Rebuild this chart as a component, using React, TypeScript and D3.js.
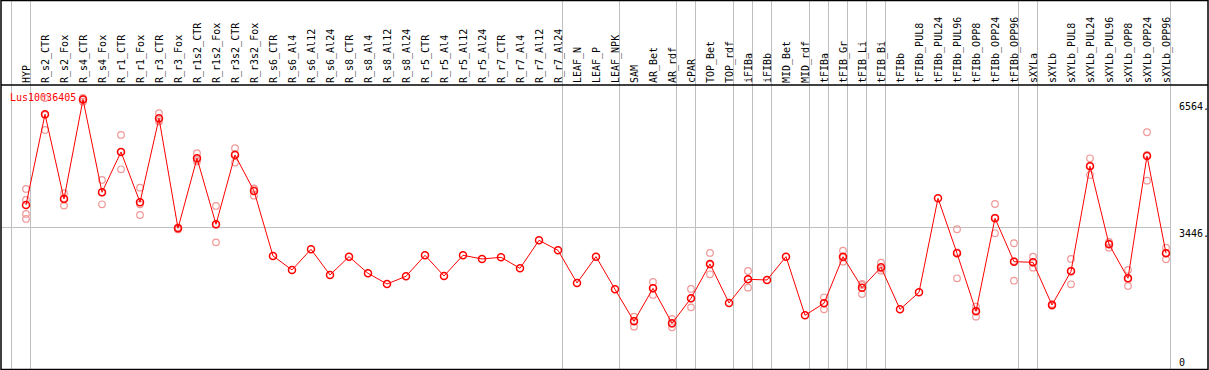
import React from "react";
import * as d3 from "d3";

// Categories (samples), in plot order
const categories = [
  "HYP", "R_s2_CTR", "R_s2_Fox", "R_s4_CTR", "R_s4_Fox", "R_r1_CTR", "R_r1_Fox",
  "R_r3_CTR", "R_r3_Fox", "R_r1s2_CTR", "R_r1s2_Fox", "R_r3s2_CTR", "R_r3s2_Fox",
  "R_s6_CTR", "R_s6_Al4", "R_s6_Al12", "R_s6_Al24", "R_s8_CTR", "R_s8_Al4",
  "R_s8_Al12", "R_s8_Al24", "R_r5_CTR", "R_r5_Al4", "R_r5_Al12", "R_r5_Al24",
  "R_r7_CTR", "R_r7_Al4", "R_r7_Al12", "R_r7_Al24", "LEAF_N", "LEAF_P", "LEAF_NPK",
  "SAM", "AR_Bet", "AR_rdf", "cPAR", "TOP_Bet", "TOP_rdf", "iFIBa", "iFIBb",
  "MID_Bet", "MID_rdf", "tFIBa", "tFIB_Gr", "tFIB_Li", "tFIB_Bi", "tFIBb",
  "tFIBb_PUL8", "tFIBb_PUL24", "tFIBb_PUL96", "tFIBb_OPP8", "tFIBb_OPP24",
  "tFIBb_OPP96", "sXYLa", "sXYLb", "sXYLb_PUL8", "sXYLb_PUL24", "sXYLb_PUL96",
  "sXYLb_OPP8", "sXYLb_OPP24", "sXYLb_OPP96",
];

// Mean expression per sample
const meanValues = [
  3995, 6204, 4141, 6564, 4304, 5286, 4060, 6106, 3427, 5132, 3524, 5213, 4336,
  2753, 2412, 2916, 2290, 2736, 2330, 2071, 2258, 2769, 2265, 2769, 2680,
  2720, 2452, 3134, 2891, 2095, 2736, 1941,
  1161, 1965, 1112, 1722, 2558, 1608, 2185, 2168, 2736, 1308,
  1600, 2736, 1981, 2477, 1454, 1868, 4158, 2818, 1405, 3671, 2614,
  2598, 1559, 2379, 4937, 3037, 2209, 5189, 2818,
];

// Individual replicates per sample (empty where none shown)
const replicates = [
  [4385, 4117, 3776, 3654], [6600, 5822, 6190], [4280, 3979, 4160], [6600, 6510, 6580],
  [4604, 4011, 4300], [5700, 4864, 5290], [4417, 3751, 4010], [6228, 6025, 6070],
  [3450, 3400, 3430], [5254, 5051, 5090], [3971, 3085, 3516], [5376, 5027, 5236],
  [4400, 4222, 4386],
  [], [], [], [], [], [], [], [], [], [], [], [], [], [], [], [], [], [], [],
  [1275, 1031, 1177], [2119, 1803, 1973], [1218, 1015, 1103], [1949, 1502, 1715],
  [2826, 2306, 2542], [], [2387, 1981, 2187], [], [], [],
  [1746, 1454, 1600], [2882, 2614, 2712], [2046, 1827, 2070], [2590, 2395, 2446],
  [], [], [], [3403, 2209, 2842], [1518, 1275, 1422], [4019, 3305, 3689], [3062, 2151, 2629],
  [2736, 2468, 2590], [1580, 1540], [2680, 2063, 2394], [5132, 4726, 4953],
  [3062, 2955, 3094], [2412, 2022, 2193], [5766, 4587, 5214], [2955, 2672, 2827],
];

// last sample of each tissue group (a grey separator follows it)
const groupEnds = [
  "HYP", "R_r7_Al24", "LEAF_NPK", "AR_rdf", "cPAR", "TOP_rdf", "iFIBa", "iFIBb",
  "MID_rdf", "tFIBa", "tFIB_Gr", "tFIB_Li", "tFIB_Bi", "tFIBb_OPP96", "sXYLa", "sXYLb_OPP96",
];

const geneName = "Lus10036405";

const W = 1209;
const H = 370;
const FONT = "'DejaVu Sans Mono', monospace";

const App = () => {
  const maxVal = d3.max(meanValues) as number;
  const x = d3.scalePoint<string>().domain(categories).range([26, 1166]);
  const y = d3.scaleLinear().domain([0, maxVal * 1.05]).range([369, 86]);
  const mid = (maxVal * 1.05) / 2;

  const line = d3
    .line<number>()
    .x((_, i) => x(categories[i]) as number)
    .y((d) => y(d));

  const sepX = [
    (x(categories[0]) as number) - 14.5,
    ...groupEnds.map((g) => (x(g) as number) + 4.5),
  ];

  return (
    <svg
      width={W}
      height={H}
      style={{ position: "absolute", left: 0, top: 0, background: "#fff" }}
    >
      {/* grey group separators */}
      {sepX.map((sx, i) => (
        <line key={i} x1={sx} x2={sx} y1={0} y2={369} stroke="#c0c0c0" strokeWidth={1} />
      ))}
      {/* mid-value guide */}
      <line x1={1} x2={sepX[sepX.length - 1]} y1={y(mid)} y2={y(mid)} stroke="#c0c0c0" strokeWidth={1} />

      {/* frame */}
      <rect x={1} y={0.5} width={1207} height={369} fill="none" stroke="#000" strokeWidth={1.5} />
      <line x1={1} x2={1208} y1={85} y2={85} stroke="#000" strokeWidth={1.5} />

      {/* sample labels */}
      {categories.map((c) => (
        <text
          key={c}
          transform={`translate(${(x(c) as number) + 3.5},83) rotate(-90)`}
          fontFamily={FONT}
          fontSize={10}
          fill="#000"
        >
          {c}
        </text>
      ))}

      {/* value labels */}
      <text x={1179} y={y(maxVal) + 11} fontFamily={FONT} fontSize={10} fill="#000">
        {`${maxVal}.`}
      </text>
      <text x={1179} y={y(mid) + 9} fontFamily={FONT} fontSize={10} fill="#000">
        {`${Math.round(mid)}.`}
      </text>
      <text x={1179} y={366} fontFamily={FONT} fontSize={10} fill="#000">
        0
      </text>

      <text x={10} y={101} fontFamily={FONT} fontSize={10} fill="#ff0000">
        {geneName}
      </text>

      {/* replicates */}
      {replicates.map((reps, i) =>
        reps.map((v, j) => (
          <circle
            key={`${i}-${j}`}
            cx={x(categories[i]) as number}
            cy={y(v)}
            r={3.3}
            fill="none"
            stroke="#f09898"
            strokeWidth={1.2}
          />
        ))
      )}

      <path d={line(meanValues) || ""} fill="none" stroke="#ff0000" strokeWidth={1} />

      {meanValues.map((v, i) => (
        <circle
          key={i}
          cx={x(categories[i]) as number}
          cy={y(v)}
          r={3.5}
          fill="none"
          stroke="#ff0000"
          strokeWidth={1.5}
        />
      ))}
    </svg>
  );
};

export default App;
